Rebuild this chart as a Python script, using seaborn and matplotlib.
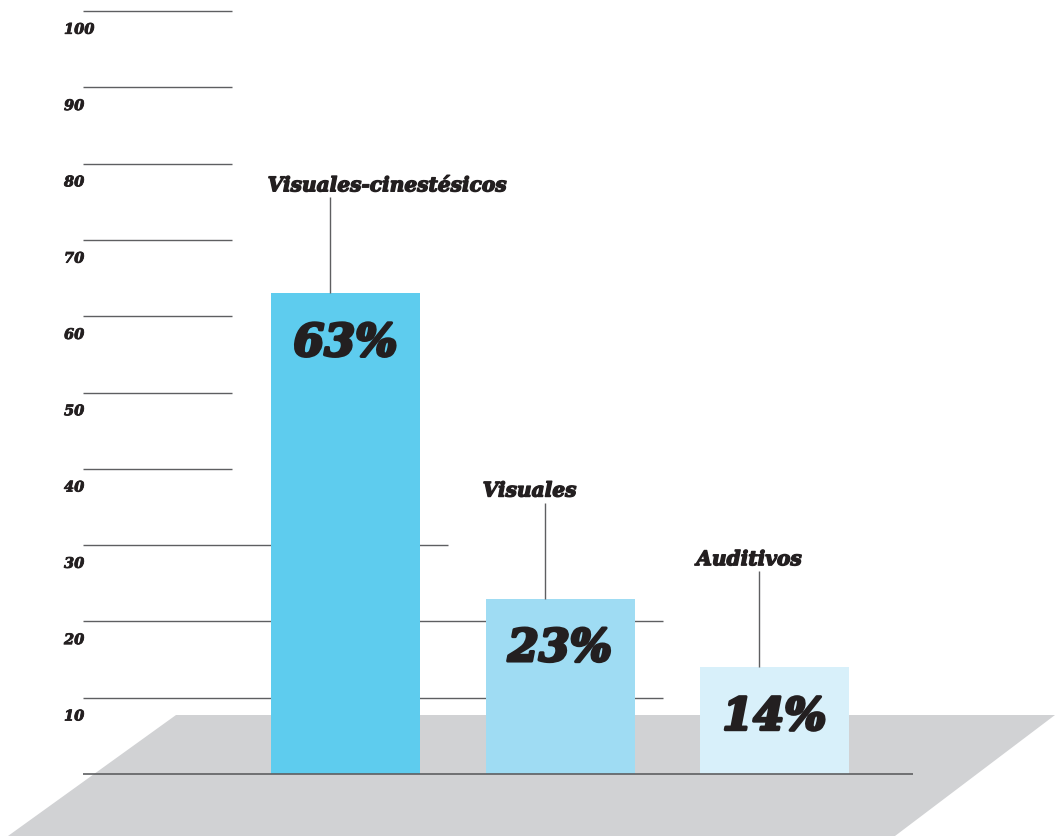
import matplotlib
matplotlib.use("Agg")
import matplotlib.pyplot as plt
from matplotlib.patches import Polygon
import matplotlib.patheffects as pe
import seaborn as sns
import pandas as pd

# Learning-style shares (percent)
categories = ["Visuales-cinestésicos", "Visuales", "Auditivos"]
values = [63, 23, 14]
value_labels = ["63%", "23%", "14%"]
bar_colors = ["#5ECCEE", "#9FDCF3", "#D8F0FA"]
tick_values = [10, 20, 30, 40, 50, 60, 70, 80, 90, 100]
tick_labels = ["10", "20", "30", "40", "50", "60", "70", "80", "90", "100"]

W, H, DPI = 1055, 836, 100
sns.set_theme(style="white")
plt.rcParams["font.family"] = ["DejaVu Serif"]
INK = "#231F20"
RULE = "#5E5F61"

fig = plt.figure(figsize=(W / DPI, H / DPI), dpi=DPI)
ax = fig.add_axes([0, 0, 1, 1])

# pixel geometry of the layout (measured from the top-left corner)
X0_PX, STEP_PX = 345.5, 214.5          # centre of first bar, spacing between bars
Y0_PX, UNIT_PX = 774.0, 7.63           # baseline, pixels per percent


def dx(px):
    return (px - X0_PX) / STEP_PX


def dy(py):
    return (Y0_PX - py) / UNIT_PX


def heavy(w):
    return [pe.withStroke(linewidth=w, foreground=INK)]


df = pd.DataFrame({"estilo": categories, "pct": values})
sns.barplot(data=df, x="estilo", y="pct", hue="estilo", palette=bar_colors,
            width=149 / STEP_PX, linewidth=0, saturation=1, legend=False,
            ax=ax, zorder=3)

ax.set_xlim(dx(0), dx(W))
ax.set_ylim(dy(H), dy(0))
ax.axis("off")

# grey floor
floor = Polygon([(dx(176), dy(715)), (dx(1055), dy(715)),
                 (dx(895), dy(836)), (dx(8), dy(836))],
                closed=True, facecolor="#D1D2D4", edgecolor="none", zorder=1)
ax.add_patch(floor)

# horizontal reference rules behind the bars
rule_right = {10: 663, 20: 663, 30: 448}
for v, lab in zip(tick_values, tick_labels):
    ax.hlines(v, dx(83), dx(rule_right.get(v, 232)), color=RULE, lw=1.0, zorder=2)
    ax.annotate(lab, (dx(64), v), xytext=(0, -13.5), textcoords="offset points",
                ha="left", va="center", fontsize=10.5, fontweight="bold",
                fontstyle="italic", color=INK, path_effects=heavy(0.6))

# baseline
ax.hlines(0, dx(83), dx(913), color=RULE, lw=1.2, zorder=4)

# value labels inside bars and category labels with leader lines
label_shift_px = [57, -15, -10]
for i, (v, vl, cat) in enumerate(zip(values, value_labels, categories)):
    ax.annotate(vl, (i, v), xytext=(0, -36), textcoords="offset points",
                ha="center", va="center", fontsize=32, fontweight="bold",
                fontstyle="italic", color=INK, zorder=5, path_effects=heavy(2.2))
    lx = i - 15.5 / STEP_PX
    top = v + 96 / UNIT_PX
    ax.vlines(lx, v, top, color=RULE, lw=1.0, zorder=4)
    ax.text(lx + label_shift_px[i] / STEP_PX, top + 12 / UNIT_PX, cat,
            ha="center", va="center", fontsize=14.5, fontweight="bold",
            fontstyle="italic", color=INK, zorder=5, path_effects=heavy(1.0))

fig.savefig("out.png", dpi=DPI, facecolor="white")
